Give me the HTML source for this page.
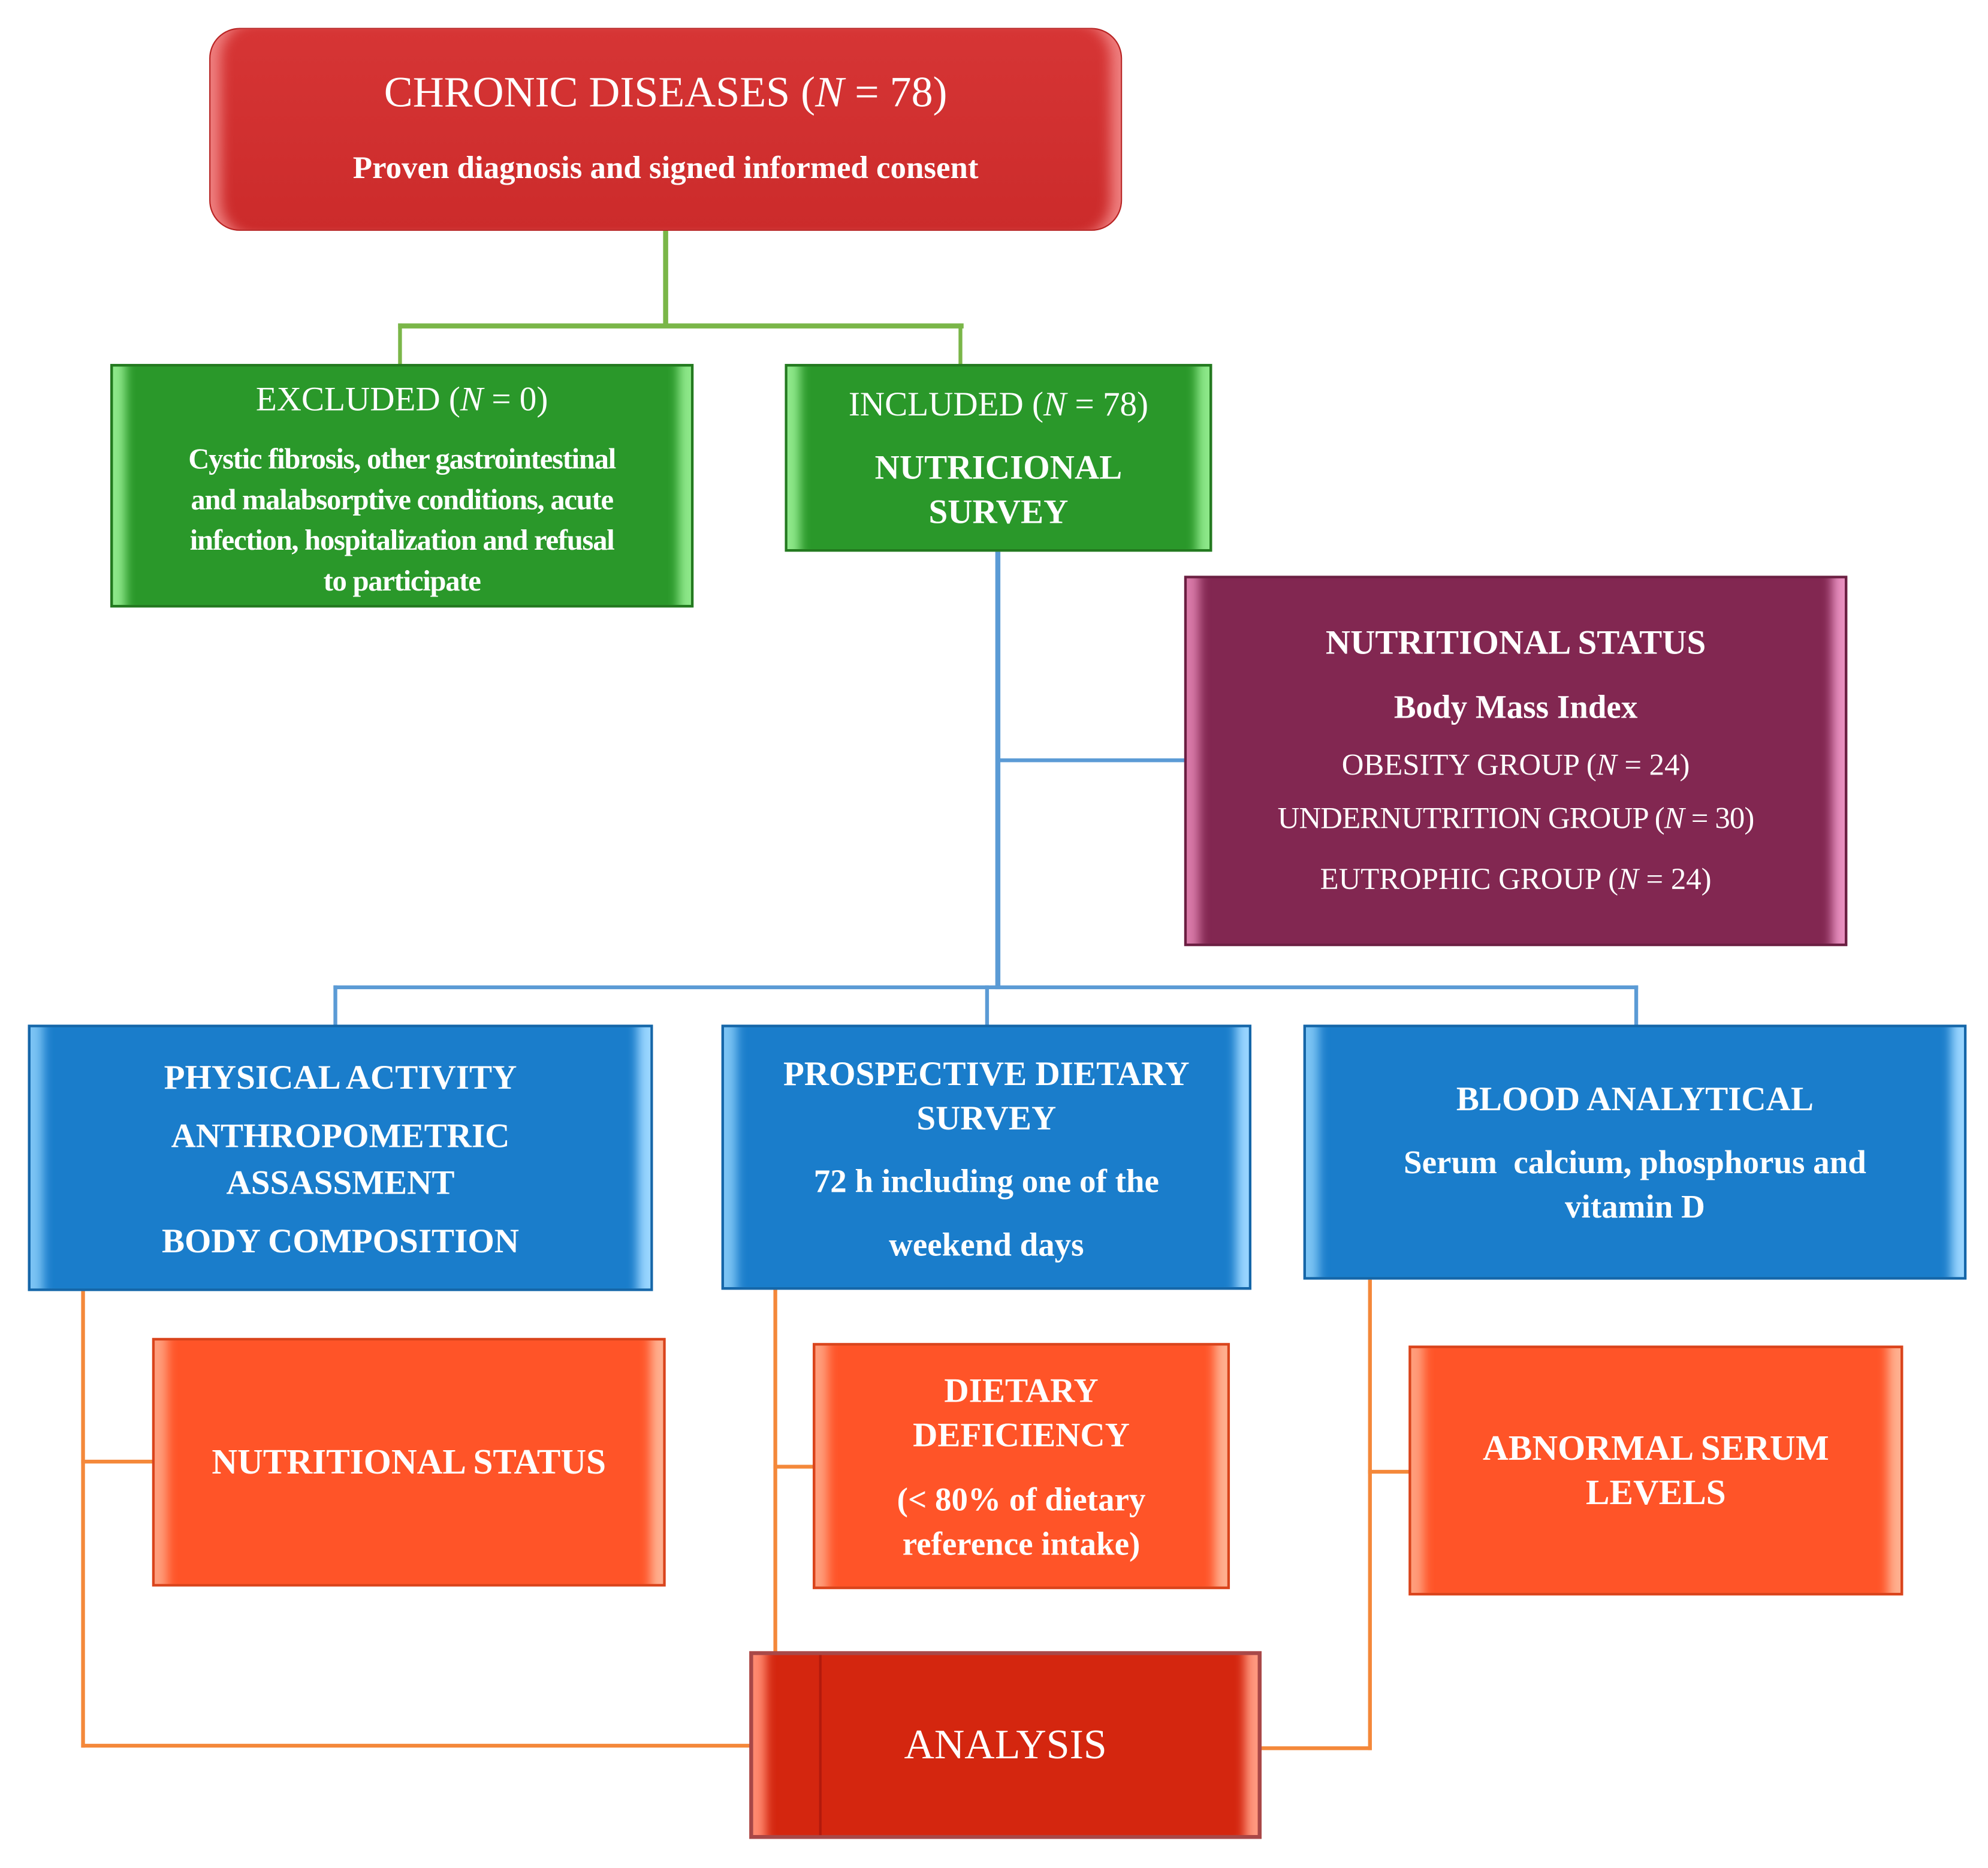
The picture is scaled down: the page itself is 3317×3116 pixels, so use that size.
<!DOCTYPE html>
<html><head><meta charset="utf-8"><style>
html,body{margin:0;padding:0;background:#fff;}
body{width:3317px;height:3115px;overflow:hidden;position:relative;}
#w{position:absolute;left:0;top:0;width:1568px;height:1473px;transform:scale(2.1155);transform-origin:0 0;}
.b{position:absolute;box-sizing:border-box;}
.t{position:absolute;left:0;right:0;text-align:center;color:#fff;font-family:"Liberation Serif",serif;font-weight:bold;white-space:nowrap;line-height:1;transform:translateY(-50%);}
.l{position:absolute;}
i{font-style:italic;}
.red{background:linear-gradient(#d63535,#cc2b2b);border-radius:24px;border:1px solid #b82424;box-shadow:inset 16px 0 10px -8px #ef8080,inset -16px 0 10px -8px #ef8080;}
.grn{background:#2a982a;border:2px solid #23791f;box-shadow:inset 18px 0 8px -8px #8ee88a,inset -18px 0 8px -8px #8ee88a;}
.pur{background:#822751;border:2px solid #6b1f42;box-shadow:inset 18px 0 8px -8px #d87aa8,inset -18px 0 8px -8px #e890c0;}
.blu{background:#1a7dcb;border:2px solid #1566a8;box-shadow:inset 18px 0 8px -8px #7cc4f4,inset -18px 0 8px -8px #9ad6ff;}
.org{background:#ff5428;border:2px solid #d9441c;box-shadow:inset 18px 0 8px -8px #ff9e7c,inset -18px 0 8px -8px #ffb090;}
.ana{background:#d4260f;border:3px solid #a84848;box-shadow:inset 18px 0 8px -8px #ff8a70,inset -18px 0 8px -8px #ff9a80;}
</style></head><body><div id="w">
<!-- green connectors -->
<div class="l" style="left:523px;top:182px;width:4px;height:76px;background:#7ab648"></div>
<div class="l" style="left:314px;top:255px;width:446px;height:4px;background:#7ab648"></div>
<div class="l" style="left:314px;top:255px;width:3px;height:33px;background:#7ab648"></div>
<div class="l" style="left:756px;top:255px;width:3px;height:33px;background:#7ab648"></div>
<!-- blue connectors -->
<div class="l" style="left:785px;top:435px;width:4px;height:345px;background:#5b9bd5"></div>
<div class="l" style="left:787px;top:598px;width:148px;height:3px;background:#5b9bd5"></div>
<div class="l" style="left:263px;top:777px;width:1029px;height:3px;background:#5b9bd5"></div>
<div class="l" style="left:263px;top:777px;width:3px;height:32px;background:#5b9bd5"></div>
<div class="l" style="left:777px;top:777px;width:3px;height:32px;background:#5b9bd5"></div>
<div class="l" style="left:1289px;top:777px;width:3px;height:32px;background:#5b9bd5"></div>
<!-- orange connectors -->
<div class="l" style="left:64px;top:1018px;width:3px;height:360px;background:#f4883a"></div>
<div class="l" style="left:64px;top:1151px;width:57px;height:3px;background:#f4883a"></div>
<div class="l" style="left:64px;top:1375px;width:530px;height:3px;background:#f4883a"></div>
<div class="l" style="left:610px;top:1017px;width:3px;height:290px;background:#f4883a"></div>
<div class="l" style="left:610px;top:1155px;width:32px;height:3px;background:#f4883a"></div>
<div class="l" style="left:1079px;top:1009px;width:3px;height:371px;background:#f4883a"></div>
<div class="l" style="left:1079px;top:1159px;width:33px;height:3px;background:#f4883a"></div>
<div class="l" style="left:994px;top:1377px;width:88px;height:3px;background:#f4883a"></div>

<div class="b red" style="left:165px;top:22px;width:720px;height:160px">
<div class="t" style="top:51px;font-size:34px;font-weight:normal">CHRONIC DISEASES (<i>N</i> = 78)</div>
<div class="t" style="top:110px;font-size:25px">Proven diagnosis and signed informed consent</div>
</div>

<div class="b grn" style="left:87px;top:287px;width:460px;height:192px">
<div class="t" style="top:26px;font-size:27px;font-weight:normal">EXCLUDED (<i>N</i> = 0)</div>
<div class="t" style="top:73px;font-size:23px;letter-spacing:-0.6px">Cystic fibrosis, other gastrointestinal</div>
<div class="t" style="top:105px;font-size:23px;letter-spacing:-0.6px">and malabsorptive conditions, acute</div>
<div class="t" style="top:137px;font-size:23px;letter-spacing:-0.6px">infection, hospitalization and refusal</div>
<div class="t" style="top:169px;font-size:23px;letter-spacing:-0.6px">to participate</div>
</div>

<div class="b grn" style="left:619px;top:287px;width:337px;height:148px">
<div class="t" style="top:30px;font-size:27px;font-weight:normal">INCLUDED (<i>N</i> = 78)</div>
<div class="t" style="top:80px;font-size:27px">NUTRICIONAL</div>
<div class="t" style="top:115px;font-size:27px">SURVEY</div>
</div>

<div class="b pur" style="left:934px;top:454px;width:523px;height:292px">
<div class="t" style="top:51px;font-size:27px">NUTRITIONAL STATUS</div>
<div class="t" style="top:102px;font-size:26px">Body Mass Index</div>
<div class="t" style="top:148px;font-size:24px;font-weight:normal">OBESITY GROUP (<i>N</i> = 24)</div>
<div class="t" style="top:190px;font-size:24px;font-weight:normal;letter-spacing:-0.4px">UNDERNUTRITION GROUP (<i>N</i> = 30)</div>
<div class="t" style="top:238px;font-size:24px;font-weight:normal">EUTROPHIC GROUP (<i>N</i> = 24)</div>
</div>

<div class="b blu" style="left:22px;top:808px;width:493px;height:210px">
<div class="t" style="top:40px;font-size:27px">PHYSICAL ACTIVITY</div>
<div class="t" style="top:86px;font-size:27px">ANTHROPOMETRIC</div>
<div class="t" style="top:123px;font-size:27px">ASSASSMENT</div>
<div class="t" style="top:169px;font-size:27px">BODY COMPOSITION</div>
</div>

<div class="b blu" style="left:569px;top:808px;width:418px;height:209px">
<div class="t" style="top:37px;font-size:27px">PROSPECTIVE DIETARY</div>
<div class="t" style="top:72px;font-size:27px">SURVEY</div>
<div class="t" style="top:122px;font-size:26px">72 h including one of the</div>
<div class="t" style="top:172px;font-size:26px">weekend days</div>
</div>

<div class="b blu" style="left:1028px;top:808px;width:523px;height:201px">
<div class="t" style="top:57px;font-size:27px">BLOOD ANALYTICAL</div>
<div class="t" style="top:107px;font-size:26px">Serum&nbsp; calcium, phosphorus and</div>
<div class="t" style="top:142px;font-size:26px">vitamin D</div>
</div>

<div class="b org" style="left:120px;top:1055px;width:405px;height:196px">
<div class="t" style="top:97px;font-size:28px">NUTRITIONAL STATUS</div>
</div>

<div class="b org" style="left:641px;top:1059px;width:329px;height:194px">
<div class="t" style="top:36px;font-size:27px">DIETARY</div>
<div class="t" style="top:71px;font-size:27px">DEFICIENCY</div>
<div class="t" style="top:122px;font-size:26px">(&lt; 80% of dietary</div>
<div class="t" style="top:157px;font-size:26px">reference intake)</div>
</div>

<div class="b org" style="left:1111px;top:1061px;width:390px;height:197px">
<div class="t" style="top:80px;font-size:28px">ABNORMAL SERUM</div>
<div class="t" style="top:115px;font-size:28px">LEVELS</div>
</div>

<div class="b ana" style="left:591px;top:1302px;width:404px;height:148px">
<div class="l" style="left:52px;top:0;width:2px;height:142px;background:#b31a0c"></div>
<div class="t" style="top:72px;font-size:33px;font-weight:normal">ANALYSIS</div>
</div>
</div></body></html>
